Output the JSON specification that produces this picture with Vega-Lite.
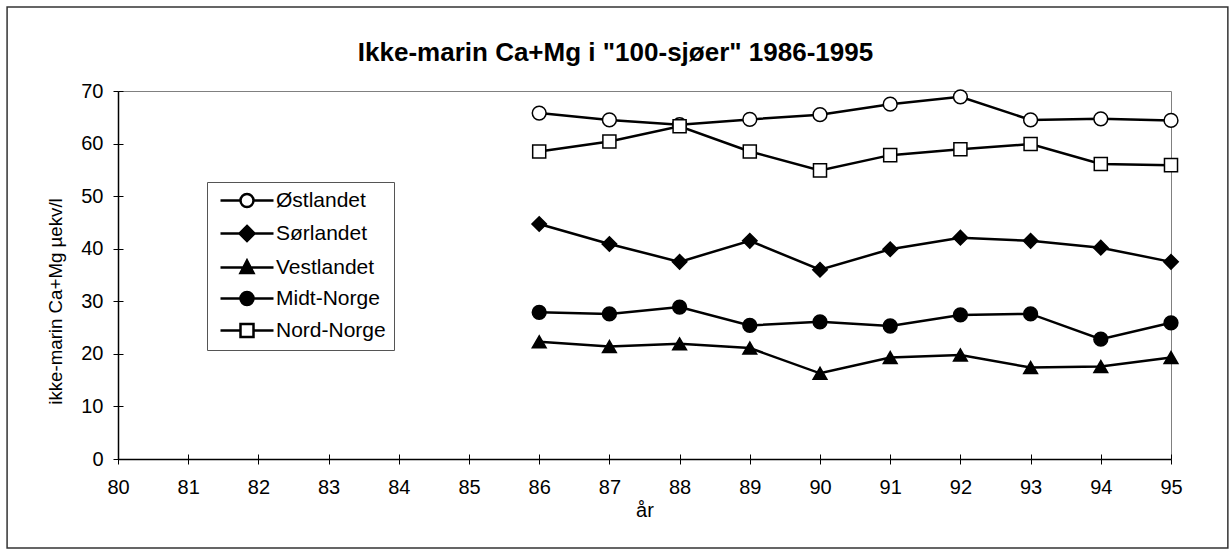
{
  "$schema": "https://vega.github.io/schema/vega-lite/v6.json",
  "width": 1053,
  "height": 368,
  "autosize": {"type": "none"},
  "padding": {"left": 118, "top": 91, "right": 60, "bottom": 91},
  "background": "white",
  "title": {
    "text": "Ikke-marin Ca+Mg i \"100-sjøer\" 1986-1995",
    "font": "Liberation Sans",
    "fontSize": 26,
    "fontWeight": "bold",
    "color": "black",
    "anchor": "middle",
    "frame": "group",
    "dx": -29,
    "offset": -81,
    "baseline": "alphabetic"
  },
  "config": {
    "view": {"stroke": "#808080", "strokeWidth": 1},
    "font": "Liberation Sans"
  },
  "data": {
    "values": [
      {"yr": 86, "region": "Østlandet", "v": 65.8},
      {"yr": 87, "region": "Østlandet", "v": 64.5},
      {"yr": 88, "region": "Østlandet", "v": 63.6},
      {"yr": 89, "region": "Østlandet", "v": 64.6},
      {"yr": 90, "region": "Østlandet", "v": 65.5},
      {"yr": 91, "region": "Østlandet", "v": 67.5},
      {"yr": 92, "region": "Østlandet", "v": 68.9},
      {"yr": 93, "region": "Østlandet", "v": 64.5},
      {"yr": 94, "region": "Østlandet", "v": 64.7},
      {"yr": 95, "region": "Østlandet", "v": 64.4},
      {"yr": 86, "region": "Sørlandet", "v": 44.7},
      {"yr": 87, "region": "Sørlandet", "v": 40.9},
      {"yr": 88, "region": "Sørlandet", "v": 37.5},
      {"yr": 89, "region": "Sørlandet", "v": 41.5},
      {"yr": 90, "region": "Sørlandet", "v": 36.0},
      {"yr": 91, "region": "Sørlandet", "v": 39.9},
      {"yr": 92, "region": "Sørlandet", "v": 42.1},
      {"yr": 93, "region": "Sørlandet", "v": 41.5},
      {"yr": 94, "region": "Sørlandet", "v": 40.2},
      {"yr": 95, "region": "Sørlandet", "v": 37.5},
      {"yr": 86, "region": "Vestlandet", "v": 22.3},
      {"yr": 87, "region": "Vestlandet", "v": 21.4},
      {"yr": 88, "region": "Vestlandet", "v": 21.9},
      {"yr": 89, "region": "Vestlandet", "v": 21.1},
      {"yr": 90, "region": "Vestlandet", "v": 16.3},
      {"yr": 91, "region": "Vestlandet", "v": 19.3},
      {"yr": 92, "region": "Vestlandet", "v": 19.8},
      {"yr": 93, "region": "Vestlandet", "v": 17.4},
      {"yr": 94, "region": "Vestlandet", "v": 17.6},
      {"yr": 95, "region": "Vestlandet", "v": 19.3},
      {"yr": 86, "region": "Midt-Norge", "v": 27.9},
      {"yr": 87, "region": "Midt-Norge", "v": 27.6},
      {"yr": 88, "region": "Midt-Norge", "v": 28.9},
      {"yr": 89, "region": "Midt-Norge", "v": 25.4},
      {"yr": 90, "region": "Midt-Norge", "v": 26.1},
      {"yr": 91, "region": "Midt-Norge", "v": 25.3},
      {"yr": 92, "region": "Midt-Norge", "v": 27.4},
      {"yr": 93, "region": "Midt-Norge", "v": 27.6},
      {"yr": 94, "region": "Midt-Norge", "v": 22.8},
      {"yr": 95, "region": "Midt-Norge", "v": 25.9},
      {"yr": 86, "region": "Nord-Norge", "v": 58.5},
      {"yr": 87, "region": "Nord-Norge", "v": 60.4},
      {"yr": 88, "region": "Nord-Norge", "v": 63.3},
      {"yr": 89, "region": "Nord-Norge", "v": 58.5},
      {"yr": 90, "region": "Nord-Norge", "v": 54.9},
      {"yr": 91, "region": "Nord-Norge", "v": 57.8},
      {"yr": 92, "region": "Nord-Norge", "v": 58.9},
      {"yr": 93, "region": "Nord-Norge", "v": 59.9},
      {"yr": 94, "region": "Nord-Norge", "v": 56.1},
      {"yr": 95, "region": "Nord-Norge", "v": 55.9}
    ]
  },
  "layer": [
    {
      "data": {"values": [{}]},
      "mark": {"type": "rect", "fill": "transparent", "stroke": "#333333", "strokeWidth": 1.5, "clip": false},
      "encoding": {
        "x": {"datum": 78.42, "type": "quantitative", "axis": null},
        "x2": {"datum": 95.81},
        "y": {"datum": 85.98, "type": "quantitative", "axis": null},
        "y2": {"datum": -16.93}
      }
    },
    {
      "mark": {"type": "line", "stroke": "black", "strokeWidth": 2.5},
      "encoding": {
        "x": {
          "field": "yr", "type": "quantitative",
          "scale": {"domain": [80, 95], "nice": false, "zero": false},
          "axis": {
            "values": [80, 81, 82, 83, 84, 85, 86, 87, 88, 89, 90, 91, 92, 93, 94, 95],
            "format": "d", "title": "år", "grid": false,
            "labelFontSize": 20, "labelColor": "black", "labelFont": "Liberation Sans", "labelFlush": false,
            "tickColor": "black", "tickSize": 5, "tickWidth": 1,
            "domainColor": "black", "domainWidth": 1.5,
            "labelPadding": 13,
            "titleFontSize": 20, "titleFontWeight": "normal", "titleColor": "black", "titleFont": "Liberation Sans", "titlePadding": 3
          }
        },
        "y": {
          "field": "v", "type": "quantitative",
          "scale": {"domain": [0, 70], "nice": false},
          "axis": {
            "values": [0, 10, 20, 30, 40, 50, 60, 70],
            "title": "ikke-marin Ca+Mg µekv/l", "grid": false,
            "labelFontSize": 20, "labelColor": "black", "labelFont": "Liberation Sans",
            "tickColor": "black", "tickSize": 5, "tickWidth": 1,
            "domainColor": "black", "domainWidth": 1.5,
            "labelPadding": 10,
            "titleFontSize": 18.7, "titleFontWeight": "normal", "titleColor": "black", "titleFont": "Liberation Sans", "titlePadding": 15, "titleY": 210
          }
        },
        "detail": {"field": "region"}
      }
    },
    {
      "transform": [{"filter": "datum.region === 'Østlandet'"}],
      "mark": {"type": "point", "shape": "circle", "fill": "white", "stroke": "black", "strokeWidth": 1.5, "size": 190, "opacity": 1},
      "encoding": {
        "x": {"field": "yr", "type": "quantitative",
          "axis": {"orient": "bottom", "values": [80, 81, 82, 83, 84, 85, 86, 87, 88, 89, 90, 91, 92, 93, 94, 95], "tickSize": -5, "tickColor": "black", "tickWidth": 1, "labels": false, "domain": false, "title": null, "grid": false}},
        "y": {"field": "v", "type": "quantitative",
          "axis": {"orient": "left", "values": [0, 10, 20, 30, 40, 50, 60, 70], "tickSize": -5, "tickColor": "black", "tickWidth": 1, "labels": false, "domain": false, "title": null, "grid": false}}
      }
    },
    {
      "transform": [{"filter": "datum.region === 'Sørlandet'"}],
      "mark": {"type": "point", "shape": "diamond", "fill": "black", "stroke": "black", "strokeWidth": 1.5, "size": 210, "opacity": 1},
      "encoding": {
        "x": {"field": "yr", "type": "quantitative", "axis": null},
        "y": {"field": "v", "type": "quantitative", "axis": null}
      }
    },
    {
      "transform": [{"filter": "datum.region === 'Vestlandet'"}],
      "mark": {"type": "point", "shape": "triangle-up", "fill": "black", "stroke": "black", "strokeWidth": 1.5, "size": 190, "opacity": 1},
      "encoding": {
        "x": {"field": "yr", "type": "quantitative", "axis": null},
        "y": {"field": "v", "type": "quantitative", "axis": null}
      }
    },
    {
      "transform": [{"filter": "datum.region === 'Midt-Norge'"}],
      "mark": {"type": "point", "shape": "circle", "fill": "black", "stroke": "black", "strokeWidth": 1.5, "size": 190, "opacity": 1},
      "encoding": {
        "x": {"field": "yr", "type": "quantitative", "axis": null},
        "y": {"field": "v", "type": "quantitative", "axis": null}
      }
    },
    {
      "transform": [{"filter": "datum.region === 'Nord-Norge'"}],
      "mark": {"type": "point", "shape": "square", "fill": "white", "stroke": "black", "strokeWidth": 1.5, "size": 170, "opacity": 1},
      "encoding": {
        "x": {"field": "yr", "type": "quantitative", "axis": null},
        "y": {"field": "v", "type": "quantitative", "axis": null}
      }
    },
    {
      "mark": {"type": "point", "strokeWidth": 2.5, "size": 100, "opacity": 0},
      "encoding": {
        "x": {"field": "yr", "type": "quantitative", "axis": null},
        "y": {"field": "v", "type": "quantitative", "axis": null},
        "shape": {
          "field": "region", "type": "nominal",
          "scale": {
            "domain": ["Østlandet", "Sørlandet", "Vestlandet", "Midt-Norge", "Nord-Norge"],
            "range": [
              "M-1,0L3,0M5.6,0L9.6,0M5.6,0A1.3,1.3,0,1,1,3,0A1.3,1.3,0,1,1,5.6,0Z",
              "M-1,0L9.6,0M4.3,-1.5L5.8,0L4.3,1.5L2.8,0Z",
              "M-1,0L9.6,0M4.3,-1.4L5.6,1.1L3,1.1Z",
              "M-1,0L9.6,0M5.6,0A1.3,1.3,0,1,1,3,0A1.3,1.3,0,1,1,5.6,0Z",
              "M-1,0L3,0M5.6,0L9.6,0M3,-1.3L5.6,-1.3L5.6,1.3L3,1.3Z"
            ]
          },
          "legend": {
            "orient": "none", "legendX": 89, "legendY": 91, "title": null,
            "strokeColor": "#555555", "fillColor": "white", "padding": 8,
            "labelFontSize": 21, "labelColor": "black", "labelFont": "Liberation Sans",
            "labelOffset": 40, "rowPadding": 9,
            "symbolStrokeColor": "black", "symbolStrokeWidth": 2.5, "symbolOpacity": 1, "symbolSize": 100
          }
        },
        "fill": {
          "field": "region", "type": "nominal",
          "scale": {"domain": ["Østlandet", "Sørlandet", "Vestlandet", "Midt-Norge", "Nord-Norge"], "range": ["white", "black", "black", "black", "white"]}
        },
        "stroke": {
          "field": "region", "type": "nominal",
          "scale": {"domain": ["Østlandet", "Sørlandet", "Vestlandet", "Midt-Norge", "Nord-Norge"], "range": ["black", "black", "black", "black", "black"]}
        }
      }
    }
  ],
  "resolve": {
    "axis": {"x": "independent", "y": "independent"}
  }
}
